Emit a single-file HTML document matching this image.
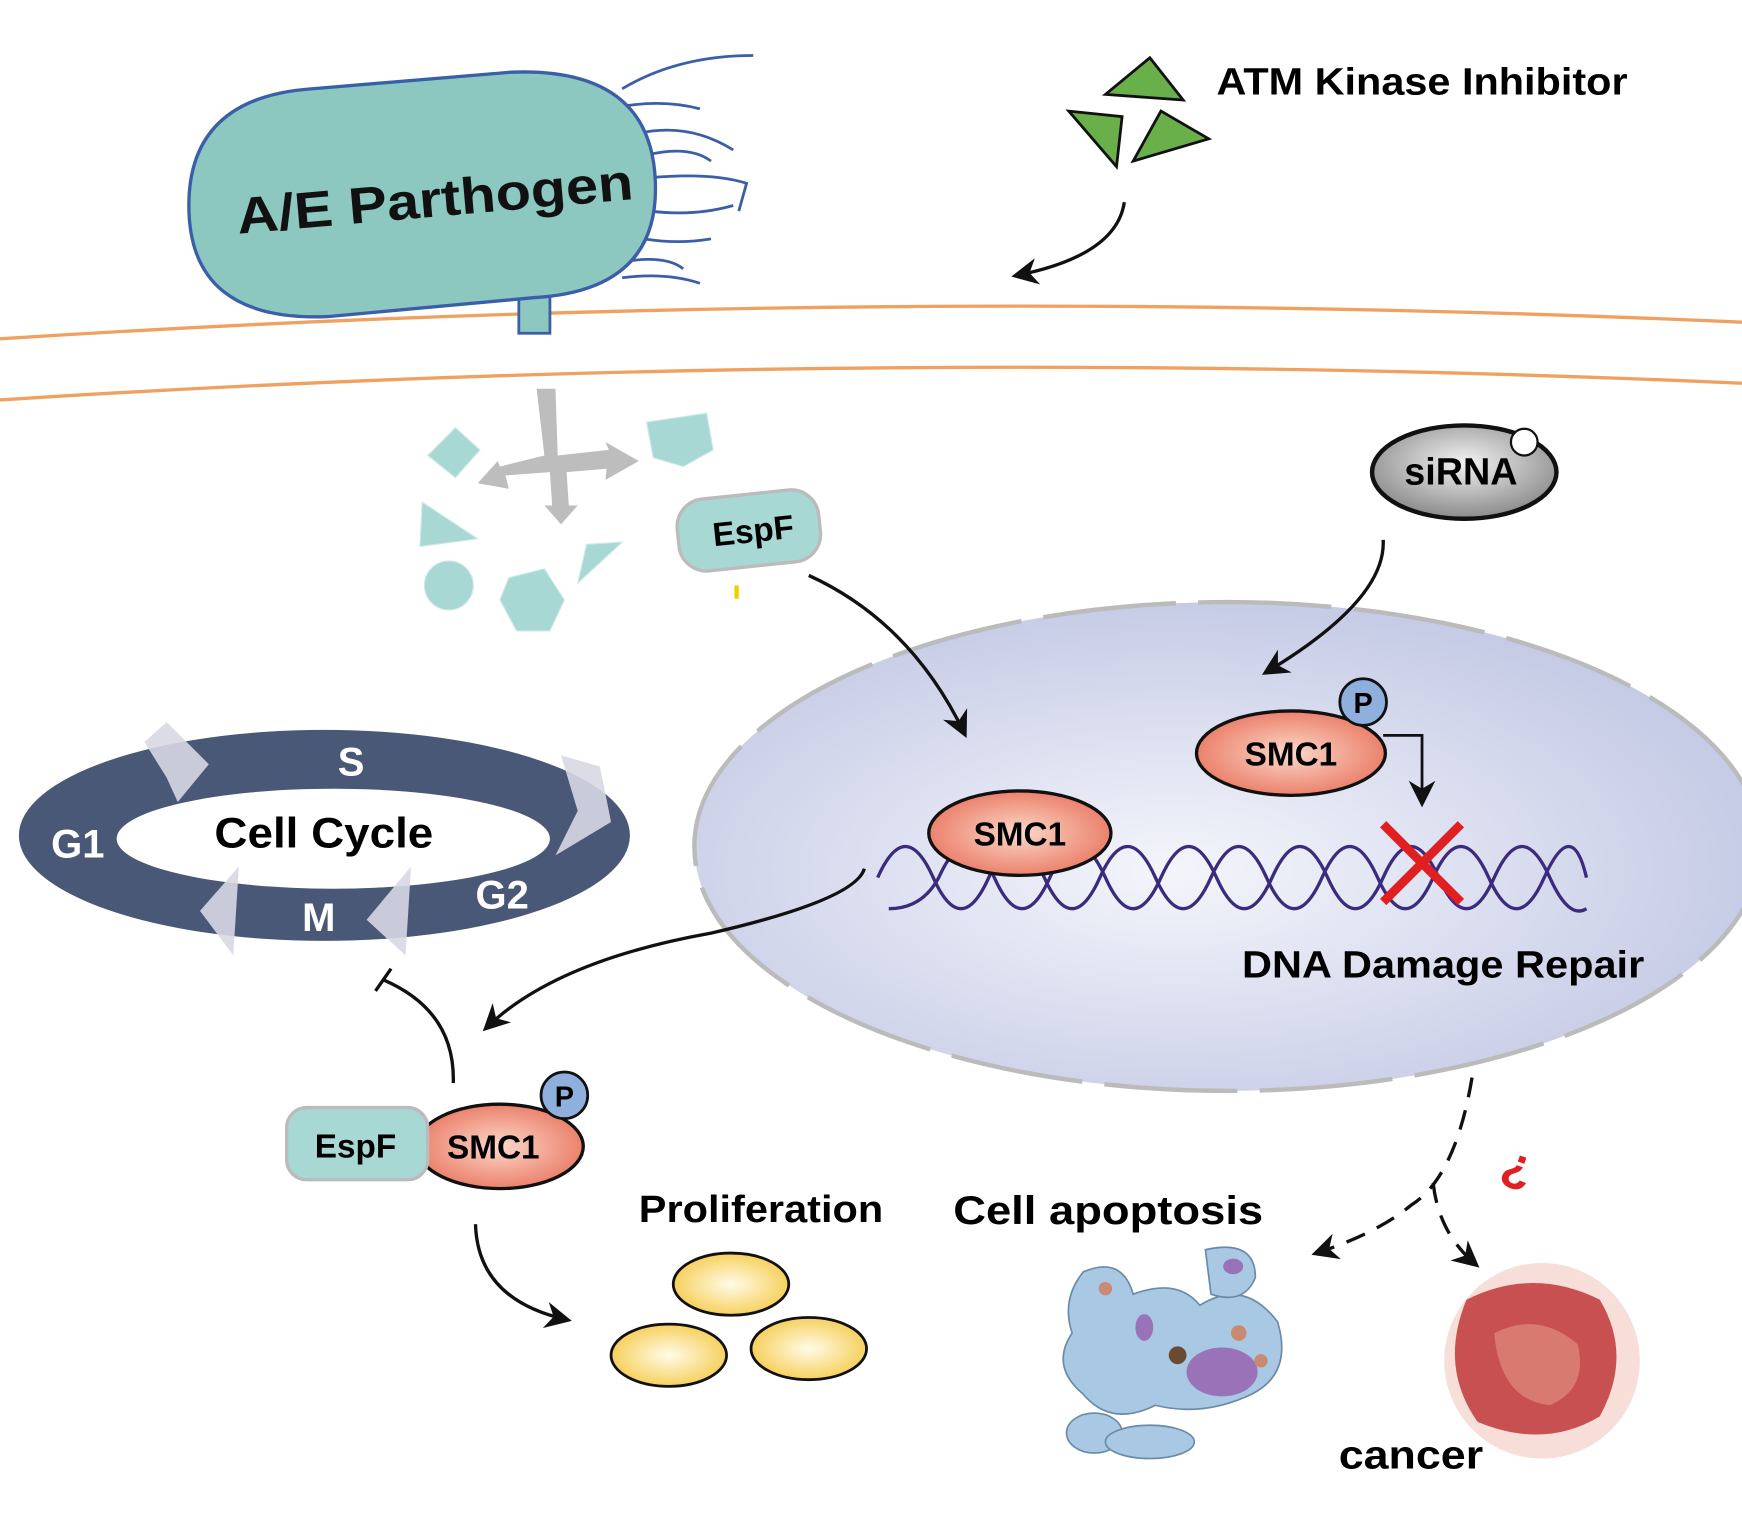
<!DOCTYPE html>
<html><head><meta charset="utf-8"><style>html,body{margin:0;padding:0;background:#fff}svg{display:block}text{font-family:"Liberation Sans",sans-serif;font-weight:bold}</style></head><body>
<svg width="1742" height="1523" viewBox="0 0 1568 1371" preserveAspectRatio="none" xmlns="http://www.w3.org/2000/svg">
<defs>
<radialGradient id="nuc" cx="0.45" cy="0.55" r="0.6"><stop offset="0" stop-color="#f4f5fb"/><stop offset="1" stop-color="#c2c8e4"/></radialGradient>
<radialGradient id="smc" cx="0.5" cy="0.5" r="0.6"><stop offset="0" stop-color="#fbd8c8"/><stop offset="1" stop-color="#e8705a"/></radialGradient>
<radialGradient id="yel" cx="0.5" cy="0.5" r="0.6"><stop offset="0" stop-color="#fffbe8"/><stop offset="1" stop-color="#f5c842"/></radialGradient>
<radialGradient id="gr" cx="0.5" cy="0.4" r="0.6"><stop offset="0" stop-color="#f2f2f2"/><stop offset="1" stop-color="#8a8a8a"/></radialGradient>
<marker id="a2" viewBox="0 0 10 10" markerWidth="24" markerHeight="24" refX="8" refY="5" orient="auto" markerUnits="userSpaceOnUse"><path d="M0,0 L10,5 L0,10 L3,5z" fill="#111"/></marker>
</defs>
<path d="M0,305 Q780,255 1568,290" stroke="#f0a060" stroke-width="3" fill="none"/>
<path d="M0,360 Q780,310 1568,345" stroke="#f0a060" stroke-width="3" fill="none"/>
<g stroke="#3a5fa8" stroke-width="2.5" fill="none">
<path d="M560,80 Q610,50 678,50"/><path d="M565,95 Q600,90 630,98"/><path d="M575,120 Q620,110 660,135"/><path d="M580,140 Q620,130 640,145"/><path d="M585,160 Q640,155 672,165 L665,190"/><path d="M585,190 Q625,195 660,185"/><path d="M580,215 Q610,220 640,215"/><path d="M565,235 Q600,230 615,242"/><path d="M560,250 Q600,245 630,255"/>
</g>
<rect x="467" y="265" width="28" height="35" fill="#8cc7c0" stroke="#3a5fa8" stroke-width="2.5"/>
<path d="M280,80 L460,65 Q590,60 590,170 Q590,262 480,268 L295,285 Q170,290 170,185 Q170,88 280,80z" fill="#8cc7c0" stroke="#3a5fa8" stroke-width="3"/>
<text x="212" y="195" font-size="46" textLength="358" lengthAdjust="spacingAndGlyphs" fill="#111" transform="rotate(-5 390 175)">A/E Parthogen</text>
<g fill="#6ab04a" stroke="#111" stroke-width="2.5"><path d="M995,85 L1035,52 L1065,90z"/><path d="M962,100 L1010,105 L1005,150z"/><path d="M1020,145 L1045,100 L1088,125z"/></g>
<text x="1095" y="85" font-size="34" textLength="370" lengthAdjust="spacingAndGlyphs">ATM Kinase Inhibitor</text>
<path d="M1012,182 Q1005,230 915,248" stroke="#111" stroke-width="3" fill="none" marker-end="url(#a2)"/>
<g fill="#bdbdbd"><path d="M483,350 L500,350 L502,410 L548,405 L545,398 L575,415 L545,432 L546,422 L510,425 L512,455 L520,455 L505,472 L490,455 L497,455 L495,425 L455,428 L458,440 L430,435 L448,415 L450,420 L490,410z"/></g>
<g fill="#a8d8d4" stroke="#cfe9e6" stroke-width="1"><path d="M385,410 L410,385 L432,405 L410,430z"/><path d="M582,380 L636,372 L642,405 L615,420 L588,412z"/><path d="M380,452 L430,485 L378,492z"/><circle cx="404" cy="527" r="22"/><path d="M458,520 L490,512 L508,540 L495,568 L465,568 L450,540z"/><path d="M528,490 L560,488 L520,525z"/></g>
<rect x="610" y="445" width="128" height="65" rx="25" fill="#a8d8d4" stroke="#bbb" stroke-width="3" transform="rotate(-6 674 477)"/>
<text x="678" y="488" font-size="30" text-anchor="middle" transform="rotate(-6 678 478)">EspF</text>
<rect x="661" y="527" width="4" height="12" fill="#f2d000"/>
<ellipse cx="1105" cy="762" rx="480" ry="220" fill="url(#nuc)" stroke="#bbb" stroke-width="4" stroke-dasharray="120,20"/>
<path d="M728,518 Q820,560 868,660" stroke="#111" stroke-width="3" fill="none" marker-end="url(#a2)"/>
<ellipse cx="1318" cy="425" rx="83" ry="42" fill="url(#gr)" stroke="#111" stroke-width="4"/>
<circle cx="1372" cy="398" r="12" fill="#fff" stroke="#111" stroke-width="2"/>
<text x="1315" y="436" font-size="34" text-anchor="middle">siRNA</text>
<path d="M1245,486 Q1248,540 1140,605" stroke="#111" stroke-width="3" fill="none" marker-end="url(#a2)"/>
<g stroke="#3b2a7d" stroke-width="3" fill="none">
<path d="M790,790 Q815,734 840,790 Q865,846 890,790 Q915,734 940,790 Q965,846 990,790 Q1015,734 1040,790 Q1065,846 1090,790 Q1115,734 1140,790 Q1165,846 1190,790 Q1215,734 1240,790 Q1265,846 1290,790 Q1315,734 1340,790 Q1365,846 1390,790 Q1415,734 1428,790"/>
<path d="M800,818 Q830,818 845,790 Q870,734 895,790 Q920,846 945,790 Q970,734 995,790 Q1020,846 1045,790 Q1070,734 1095,790 Q1120,846 1145,790 Q1170,734 1195,790 Q1220,846 1245,790 Q1270,734 1295,790 Q1320,846 1345,790 Q1370,734 1395,790 Q1412,828 1428,818"/>
</g>
<path d="M1245,742 L1315,812 M1315,742 L1245,812" stroke="#e02020" stroke-width="8"/>
<ellipse cx="918" cy="750" rx="82" ry="38" fill="url(#smc)" stroke="#111" stroke-width="3"/>
<text x="918" y="761" font-size="30" text-anchor="middle">SMC1</text>
<ellipse cx="1162" cy="678" rx="85" ry="38" fill="url(#smc)" stroke="#111" stroke-width="3"/>
<text x="1162" y="689" font-size="30" text-anchor="middle">SMC1</text>
<circle cx="1227" cy="632" r="21" fill="#8fb0dd" stroke="#111" stroke-width="2.5"/>
<text x="1227" y="642" font-size="26" text-anchor="middle" font-weight="normal">P</text>
<path d="M1245,662 L1280,662 L1280,722" stroke="#111" stroke-width="2.5" fill="none" marker-end="url(#a2)"/>
<text x="1118" y="880" font-size="34" textLength="362" lengthAdjust="spacingAndGlyphs">DNA Damage Repair</text>
<path fill-rule="evenodd" fill="#4a5878" d="M17,752 A275,95 0 1,0 567,752 A275,95 0 1,0 17,752z M105,755 A195,45 0 1,1 495,755 A195,45 0 1,1 105,755z"/>
<g fill="#d8d8e4" opacity="0.9"><path d="M130,668 L150,650 L188,688 L160,722 L150,700z"/><path d="M505,680 L540,690 L550,740 L500,770 L520,730z"/><path d="M180,820 L215,780 L210,860z"/><path d="M330,828 L370,780 L365,860z"/></g>
<text x="316" y="698" font-size="36" fill="#fff" font-weight="normal" text-anchor="middle">S</text>
<text x="46" y="772" font-size="36" fill="#fff" font-weight="normal">G1</text>
<text x="272" y="838" font-size="36" fill="#fff" font-weight="normal">M</text>
<text x="428" y="818" font-size="36" fill="#fff" font-weight="normal">G2</text>
<text x="193" y="763" font-size="38" textLength="197" lengthAdjust="spacingAndGlyphs">Cell Cycle</text>
<path d="M778,782 Q770,810 640,840 Q500,865 438,925" stroke="#111" stroke-width="3" fill="none" marker-end="url(#a2)"/>
<path d="M408,975 Q410,910 345,882 M338,892 L352,872" stroke="#111" stroke-width="3" fill="none"/>
<ellipse cx="450" cy="1032" rx="75" ry="38" fill="url(#smc)" stroke="#111" stroke-width="3"/>
<rect x="258" y="997" width="127" height="65" rx="18" fill="#a8d8d4" stroke="#bbb" stroke-width="3"/>
<text x="320" y="1042" font-size="30" text-anchor="middle">EspF</text>
<text x="444" y="1043" font-size="30" text-anchor="middle">SMC1</text>
<circle cx="508" cy="986" r="21" fill="#8fb0dd" stroke="#111" stroke-width="2.5"/>
<text x="508" y="996" font-size="26" text-anchor="middle" font-weight="normal">P</text>
<path d="M428,1102 Q430,1170 510,1188" stroke="#111" stroke-width="3" fill="none" marker-end="url(#a2)"/>
<text x="575" y="1100" font-size="34" textLength="220" lengthAdjust="spacingAndGlyphs">Proliferation</text>
<g stroke="#111" stroke-width="2.5" fill="url(#yel)"><ellipse cx="658" cy="1156" rx="52" ry="28"/><ellipse cx="602" cy="1220" rx="52" ry="28"/><ellipse cx="728" cy="1214" rx="52" ry="28"/></g>
<text x="858" y="1102" font-size="36" textLength="279" lengthAdjust="spacingAndGlyphs">Cell apoptosis</text>
<path d="M1325,970 Q1310,1060 1270,1085 Q1240,1110 1185,1128" stroke="#111" stroke-width="3" fill="none" stroke-dasharray="18,12" marker-end="url(#a2)"/>
<path d="M1290,1065 Q1295,1110 1328,1138" stroke="#111" stroke-width="3" fill="none" stroke-dasharray="18,12" marker-end="url(#a2)"/>
<text x="1365" y="1070" font-size="44" fill="#e02020" text-anchor="middle" transform="rotate(200 1365 1055)">?</text>
<g fill="#a8c8e4" stroke="#6a8aa8" stroke-width="1.5"><path d="M975,1145 Q1010,1130 1020,1165 Q1060,1150 1080,1175 Q1120,1150 1150,1190 Q1165,1240 1120,1258 Q1080,1275 1040,1265 Q1000,1285 975,1255 Q945,1230 965,1200 Q955,1170 975,1145z"/><path d="M1085,1125 Q1130,1115 1130,1150 Q1120,1175 1090,1165z"/><ellipse cx="985" cy="1290" rx="25" ry="18"/><ellipse cx="1035" cy="1298" rx="40" ry="15"/></g>
<g fill="#9a72b8"><ellipse cx="1100" cy="1235" rx="32" ry="22"/><ellipse cx="1030" cy="1195" rx="8" ry="12"/><ellipse cx="1110" cy="1140" rx="9" ry="7"/></g>
<g fill="#c88a70"><circle cx="995" cy="1160" r="6"/><circle cx="1115" cy="1200" r="7"/><circle cx="1135" cy="1225" r="6"/><circle cx="1060" cy="1220" r="8" fill="#6a4a30"/></g>
<g><circle cx="1388" cy="1225" r="88" fill="#e8a090" opacity="0.35"/><path d="M1320,1170 Q1380,1140 1440,1170 Q1470,1220 1440,1275 Q1390,1305 1330,1280 Q1295,1230 1320,1170z" fill="#c85050"/><path d="M1345,1200 Q1385,1180 1420,1210 Q1430,1250 1395,1265 Q1350,1260 1345,1200z" fill="#d87a70"/></g>
<text x="1205" y="1322" font-size="36" textLength="130" lengthAdjust="spacingAndGlyphs">cancer</text>
</svg>
</body></html>
